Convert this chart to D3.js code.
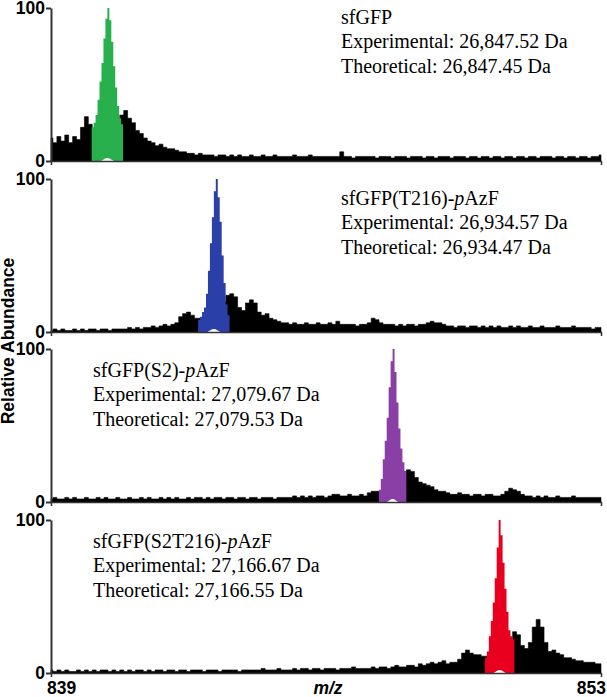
<!DOCTYPE html>
<html><head><meta charset="utf-8">
<script src="https://cdn.jsdelivr.net/npm/d3@7"></script>
<style>body{margin:0;background:#fff} svg{display:block}</style>
</head><body>
<svg id="c" width="607" height="697"></svg>
<script>
// ---------- data ----------
const mzStart = 839, mzStep = 0.1;      // spectrum grid (m/z)
const xTicks = [839, 853];
const yTicks = [0, 100];

const names = ["sfGFP", "sfGFP(T216)-", "sfGFP(S2)-", "sfGFP(S2T216)-"];
const nameItalic = ["", "p", "p", "p"];
const nameTail = ["", "AzF", "AzF", "AzF"];
const expMass = ["26,847.52", "26,934.57", "27,079.67", "27,166.67"];
const theoMass = ["26,847.45", "26,934.47", "27,079.53", "27,166.55"];

// relative abundance, 839.0 → 853.0 in 0.1 steps (141 points)
const specGFP = [15,12,16,13,17,12,16,14,22,29,24,
  20,20,20,20,20,20,20,
  30,33,28,25,20,18,15,13,12,10,11,9,8,8,7,6,6,5,5,4,5,4,4,
  4,3,4,4,3,4,3,4,3,3, 4,3,3,4,3,3,4,3,3,3, 3,4,3,3,3,4,3,3,3,3,
  3,3,3,6,3,3,2,3,3,3, 3,3,2,3,3,3,2,3,3,3, 2,3,3,3,2,3,3,2,3,3,
  3,2,3,3,3,2,3,3,2,3, 3,2,3,3,2,3,3,2,3,3, 2,3,3,2,3,3,3,2,3,3,
  2,3,3,2,3,3,2,3,3,4];
const specT216 = [1,2,1,2,1,1,2,1,2,1,2,2,1,2,2,1,2,2,2,2,3,
  2,3,2,3,3,4,3,4,5,4,
  5,6,10,12,13,11,9,
  9,9,9,9,9,9,20,
  24,25,23,16,14,19,21,19,13,11,12,9,8,7,6,
  6,5,6,5,5,6,5,5,6,5,5,6,5,7,5,5,5,5,4,5,5,
  6,9,8,6,5,5,5,4,5,4,5,5,4,5,5,6,7,6,6,5,
  4,4,3,4,4,3,4,4,3,4, 3,4,3,4,3,3,4,3,4,3, 3,4,3,3,4,3,3,3,4,3, 3,3,4,3,3,3,3,2,3,3];
const specS2 = [2,3,2,2,3,2,3,2,2,3, 2,2,3,2,3,2,2,3,2,2, 3,2,2,3,2,3,2,2,3,2,
  3,2,3,2,2,3,2,3,3,2, 3,2,3,3,2,3,3,2,3,3, 2,3,3,2,3,3,3,2,3,3,3,
  3,4,3,4,3,4,3,4,4,3,
  4,5,5,4,4,5,4,4,5,4,6,7,7,
  7,7,7,7,7,7,
  20,21,20,16,13,12,11,10,8,7,7,
  6,5,5,6,5,5,4,5,5,4,5,5,4,4,5,
  7,9,8,7,5,
  4,4,3,4,3,4,3,3,4,3,3,3,4,3,3,3,3,3,3,3];
const specS2T216 = [2,1,2,1,2,1,1,2,1,2, 1,2,1,2,2,1,2,1,2,1, 2,1,2,2,1,2,1,2,2,1,
  2,2,1,2,2,1,2,2,2,1, 2,2,2,1,2,2,2,2,1,2, 2,2,2,2,3,2,2,2,3,2,2,
  2,3,2,3,3,2,3,3,2,3,3,3,2,3,3,3,4,3,3,3,
  3,4,3,4,4,3,4,5,4,4,5,5,4,6,5,
  6,7,6,7,8,6,7,
  7,9,13,15,13,12,12,11,
  11,11,11,11,11,11,11,
  27,25,18,16,20,30,35,30,20,14,15,13,12,10,10,9,8,8,7,7,7,6,6];

// highlighted isotope envelope, 0.05 m/z steps
const peakStep = 0.05;
const peakStarts = [840.06, 842.77, 847.37, 850.07];
const peakGFP = [22,25,30,40,52,64,80,93,100,92,78,62,48,36,28,24];
const peakT216 = [8,10,13,16,25,40,58,75,92,100,88,72,50,32,18,11];
const peakS2 = [8,15,28,40,55,75,92,100,85,65,48,35,26,20];
const peakS2T216 = [10,14,24,34,46,62,82,100,90,72,55,40,28,24,22];

// ---------- drawing ----------
const spectra = [specGFP, specT216, specS2, specS2T216];
const peaks = [peakGFP, peakT216, peakS2, peakS2T216];
const colors = ["#27b04c", "#2b3fa8", "#8a3fa6", "#e8001e"];
const panelTop = [8, 179, 349, 520];
const panelH = 153;
const textX = [341, 341, 93, 93];
const textDy = [16, 26, 28, 28];

const svg = d3.select("#c");
const sans = "'Liberation Sans', Arial, sans-serif";
const serif = "'Liberation Serif', 'Times New Roman', serif";
const x = d3.scaleLinear().domain([xTicks[0], xTicks[1]]).range([51, 601]);

spectra.forEach((spec, k) => {
  const y = d3.scaleLinear().domain([0, 100]).range([panelTop[k] + panelH, panelTop[k]]);
  const g = svg.append("g");
  const pts = spec.map((v, i) => [mzStart + i * mzStep, v]);
  const area = d3.area().curve(d3.curveStep).x(d => x(d[0])).y0(y(0)).y1(d => y(d[1]));
  g.append("path").datum(pts).attr("d", area).attr("fill", "#000").attr("stroke", "#000").attr("stroke-width", 0.6);

  const pk = peaks[k].map((v, i) => [peakStarts[k] + i * peakStep, v]);
  const half = peakStep / 2;
  const m0 = pk[0][0] - half, m1 = pk[pk.length - 1][0] + half;
  const pkPts = [[m0, pk[0][1]], ...pk, [m1, pk[pk.length - 1][1]]];
  g.append("path").datum(pkPts).attr("d", area).attr("fill", colors[k]);

  // faint white notch at the base of the highlighted envelope
  const mid = (m0 + m1) / 2, w = (m1 - m0) * 0.2;
  const notch = d3.area().curve(d3.curveBasis).x(d => x(d[0])).y0(y(0)).y1(d => y(d[1]));
  g.append("path").datum([[mid - w, 0], [mid - w / 2, 1.5], [mid, 2.2], [mid + w / 2, 1.5], [mid + w, 0]])
    .attr("d", notch).attr("fill", "#fff");

  // axes
  const ya = g.append("g").attr("transform", `translate(${x(xTicks[0])},0)`)
    .call(d3.axisLeft(y).tickValues(yTicks).tickSize(5).tickPadding(1).tickSizeOuter(0));
  ya.select(".domain").attr("stroke", "#333").attr("stroke-width", 2);
  ya.selectAll(".tick line").attr("stroke", "#333").attr("stroke-width", 2);
  ya.selectAll(".tick text").attr("font-family", sans).attr("font-weight", "bold")
    .attr("font-size", 17.5).attr("fill", "#000");

  const xa = g.append("g").attr("transform", `translate(0,${y(0)})`)
    .call(d3.axisBottom(x).tickValues([]).tickSizeOuter(4));
  xa.select(".domain").attr("stroke", "#333").attr("stroke-width", 1.5);

  // labels
  const t = g.append("text").attr("font-family", serif).attr("font-size", 20).attr("fill", "#000")
    .attr("x", textX[k]).attr("y", panelTop[k] + textDy[k]);
  t.append("tspan").text(names[k]);
  if (nameItalic[k]) t.append("tspan").attr("font-style", "italic").text(nameItalic[k]);
  if (nameTail[k]) t.append("tspan").text(nameTail[k]);
  g.append("text").attr("font-family", serif).attr("font-size", 20)
    .attr("x", textX[k]).attr("y", panelTop[k] + textDy[k] + 24.3)
    .text(`Experimental: ${expMass[k]} Da`);
  g.append("text").attr("font-family", serif).attr("font-size", 20)
    .attr("x", textX[k]).attr("y", panelTop[k] + textDy[k] + 48.6)
    .text(`Theoretical: ${theoMass[k]} Da`);
});

// axis titles and end labels
svg.append("text").attr("transform", "translate(14,341) rotate(-90)")
  .attr("text-anchor", "middle").attr("font-family", sans).attr("font-weight", "bold")
  .attr("font-size", 17.5).text("Relative Abundance");
svg.append("text").attr("x", 47).attr("y", 694).attr("font-family", sans)
  .attr("font-weight", "bold").attr("font-size", 17.5).text(xTicks[0]);
svg.append("text").attr("x", 606).attr("y", 694).attr("text-anchor", "end").attr("font-family", sans)
  .attr("font-weight", "bold").attr("font-size", 17.5).text(xTicks[1]);
svg.append("text").attr("x", 328).attr("y", 694).attr("text-anchor", "middle").attr("font-family", sans)
  .attr("font-weight", "bold").attr("font-style", "italic").attr("font-size", 17.5).text("m/z");
</script>
</body></html>
